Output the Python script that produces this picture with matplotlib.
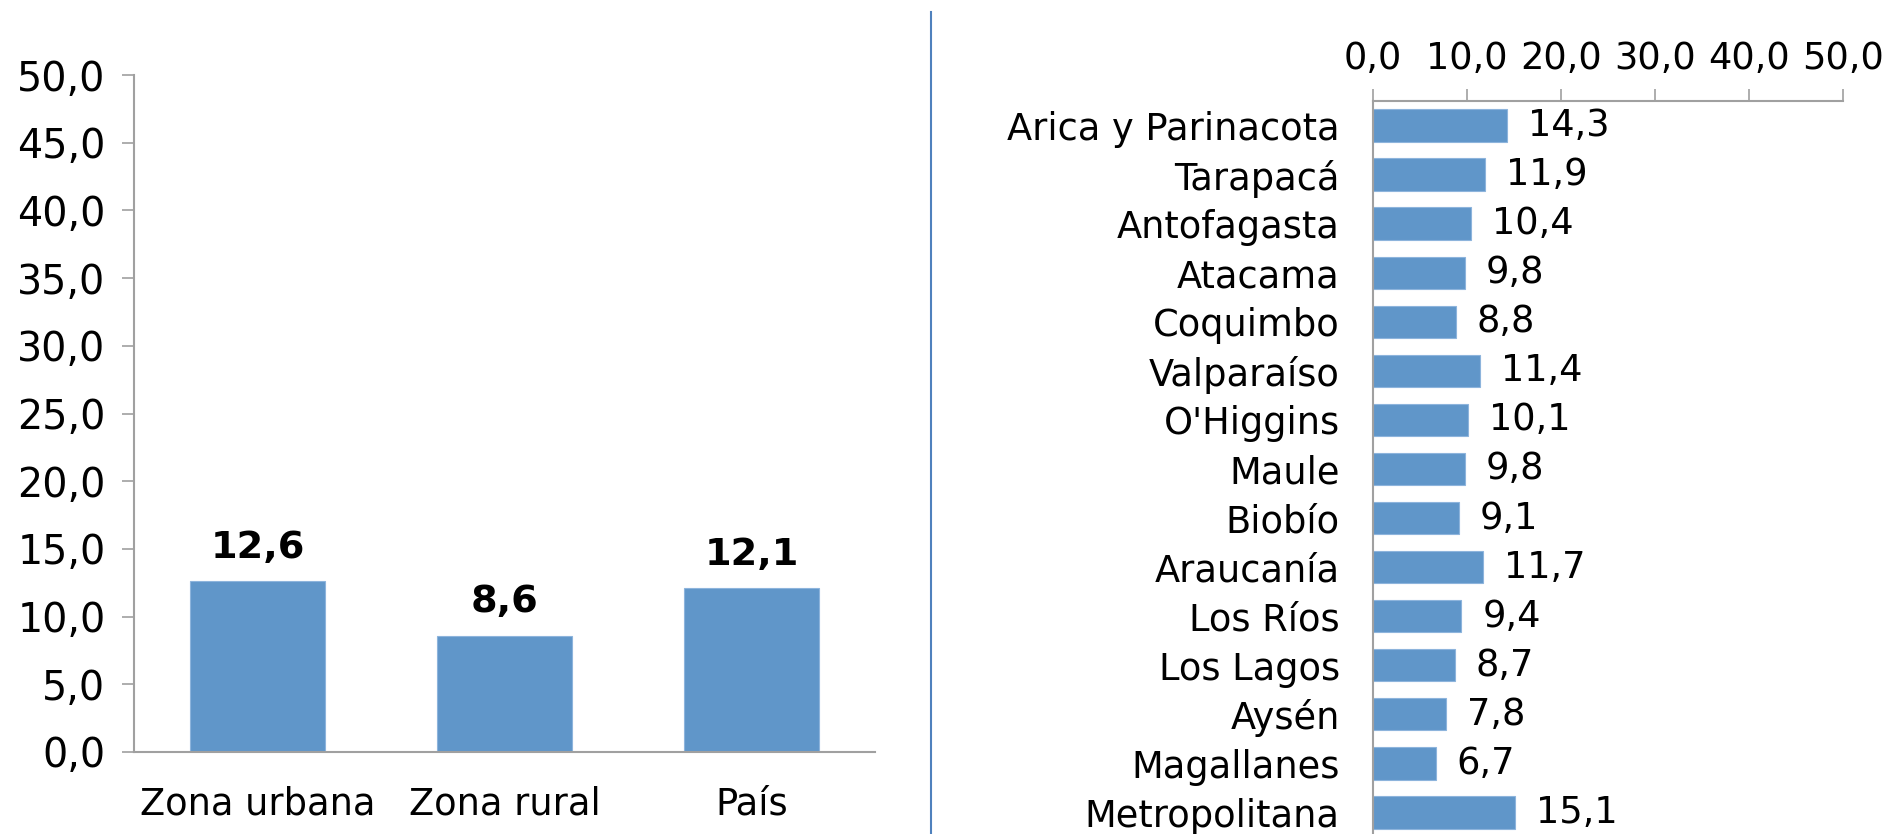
import matplotlib
matplotlib.use("Agg")
import matplotlib.pyplot as plt
from matplotlib.lines import Line2D

zonas = ["Zona urbana", "Zona rural", "País"]
zonas_vals = [12.6, 8.6, 12.1]

regiones = ["Arica y Parinacota", "Tarapacá", "Antofagasta", "Atacama", "Coquimbo",
            "Valparaíso", "O'Higgins", "Maule", "Biobío", "Araucanía", "Los Ríos",
            "Los Lagos", "Aysén", "Magallanes", "Metropolitana"]
regiones_vals = [14.3, 11.9, 10.4, 9.8, 8.8, 11.4, 10.1, 9.8, 9.1, 11.7, 9.4, 8.7, 7.8, 6.7, 15.1]

ticks = [0, 5, 10, 15, 20, 25, 30, 35, 40, 45, 50]
ticks_r = [0, 10, 20, 30, 40, 50]

def fmt(v):
    return f"{v:.1f}".replace(".", ",")

plt.rcParams['font.family'] = ['DejaVu Sans']
BAR = "#6096C9"
AX = "#A0A0A0"
FS = 26.5

fig = plt.figure(figsize=(18.93, 8.34), dpi=100)

# Left chart
ax1 = fig.add_axes([134/1893, 1-752/834, (875-134)/1893, (752-75)/834])
x = range(len(zonas))
ax1.bar(x, zonas_vals, width=0.55, color=BAR, edgecolor="#8DB4DC", linewidth=0.8)
ax1.set_xlim(-0.5, 2.5)
ax1.set_ylim(0, 50)
ax1.set_yticks(ticks)
ax1.set_yticklabels([fmt(t) for t in ticks])
ax1.set_xticks(list(x))
ax1.set_xticklabels(zonas)
for s in ["top", "right"]:
    ax1.spines[s].set_visible(False)
for s in ["left", "bottom"]:
    ax1.spines[s].set_color(AX)
    ax1.spines[s].set_linewidth(1.5)
ax1.tick_params(axis="y", length=8.5, width=1.2, color=AX, labelsize=28.5, pad=12)
ax1.tick_params(axis="x", length=0, labelsize=FS, pad=24)
for i, v in enumerate(zonas_vals):
    ax1.annotate(fmt(v), (i, v), xytext=(0, 11), textcoords="offset points",
                 ha="center", va="bottom", fontsize=27.5, fontweight="bold")

# Divider
fig.add_artist(Line2D([930.5/1893, 930.5/1893], [0, 1-12/834], transform=fig.transFigure,
                      color="#4F81BD", linewidth=1.5))

# Right chart
ax2 = fig.add_axes([1373/1893, 0, (1843-1373)/1893, 1-101/834])
y = range(len(regiones))
ax2.barh(y, regiones_vals, height=0.66, color=BAR, edgecolor="#8DB4DC", linewidth=0.8)
ax2.set_ylim(14.44, -0.5)
ax2.set_xlim(0, 50)
ax2.xaxis.tick_top()
ax2.set_xticks(ticks_r)
ax2.set_xticklabels([fmt(t) for t in ticks_r])
ax2.set_yticks(list(y))
ax2.set_yticklabels(regiones)
for s in ["bottom", "right"]:
    ax2.spines[s].set_visible(False)
for s in ["left", "top"]:
    ax2.spines[s].set_color(AX)
    ax2.spines[s].set_linewidth(1.5)
ax2.tick_params(axis="x", length=8.5, width=1.2, color=AX, labelsize=FS, pad=9)
ax2.tick_params(axis="y", length=0, labelsize=FS, pad=24)
for i, v in enumerate(regiones_vals):
    ax2.annotate(fmt(v), (v, i), xytext=(15, 0), textcoords="offset points",
                 ha="left", va="center", fontsize=FS)

fig.savefig("out.png", dpi=100, facecolor="white")
